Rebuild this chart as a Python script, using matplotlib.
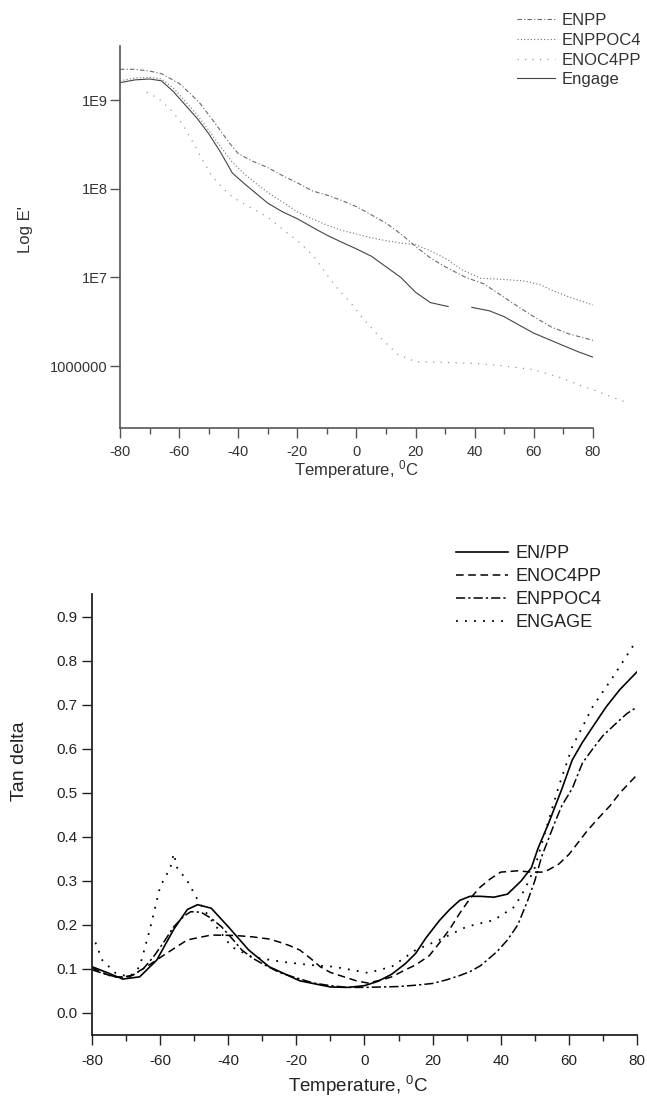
import numpy as np
import matplotlib
matplotlib.use('Agg')
import matplotlib.pyplot as plt
from matplotlib.ticker import MultipleLocator, NullLocator

plt.rcParams['font.family'] = ['Liberation Sans', 'DejaVu Sans']
plt.rcParams['mathtext.default'] = 'regular'
plt.rcParams['axes.unicode_minus'] = False

# === top panel: storage modulus E' (Pa) vs temperature ===
t_enpp = [-80, -75, -70, -66, -60, -56, -53, -48, -43, -40, -35, -30, -25, -20, -15, -10, -5, 0, 5, 10,
          15, 20, 25, 30, 37, 43, 48, 53, 60, 66, 72, 80]
e_enpp = [2.24e9, 2.24e9, 2.14e9, 2.0e9, 1.55e9, 1.17e9, 9.3e8, 5.6e8, 3.3e8, 2.5e8, 2.04e8, 1.74e8,
          1.41e8, 1.17e8, 9.5e7, 8.5e7, 7.4e7, 6.3e7, 5.1e7, 4.1e7, 3.1e7, 2.24e7, 1.66e7, 1.32e7,
          1.0e7, 8.5e6, 6.6e6, 5.1e6, 3.6e6, 2.75e6, 2.3e6, 1.95e6]

t_enppoc4 = [-80, -75, -70, -66, -62, -58, -54, -50, -46, -42, -38, -34, -30, -25, -20, -15, -10, -5, 0,
             5, 10, 15, 20, 25, 31, 36, 42, 50, 57, 62, 66, 72, 80]
e_enppoc4 = [1.66e9, 1.78e9, 1.82e9, 1.74e9, 1.38e9, 9.8e8, 6.9e8, 4.6e8, 3.0e8, 2.0e8, 1.48e8, 1.15e8,
             9.1e7, 7.1e7, 5.5e7, 4.6e7, 3.9e7, 3.4e7, 3.1e7, 2.8e7, 2.6e7, 2.45e7, 2.34e7, 2.0e7,
             1.58e7, 1.2e7, 9.8e6, 9.5e6, 9.1e6, 8.3e6, 7.2e6, 6.0e6, 4.9e6]

t_enoc4pp = [-71, -67, -63, -59, -55, -52, -49, -45, -42, -36, -30, -25, -19, -14, -10, -6, -2, 2, 8,
             14, 20, 30, 40, 48, 60, 70, 77, 80, 92]
e_enoc4pp = [1.23e9, 1.05e9, 7.9e8, 5.5e8, 3.2e8, 2.1e8, 1.41e8, 1.0e8, 8.1e7, 6.2e7, 4.8e7, 3.5e7,
             2.45e7, 1.66e7, 1.07e7, 7.2e6, 5.2e6, 3.5e6, 2.1e6, 1.35e6, 1.12e6, 1.1e6, 1.07e6,
             1.02e6, 9.1e5, 7.2e5, 5.8e5, 5.4e5, 3.8e5]

t_engage = [-80, -75, -70, -66, -62, -58, -54, -50, -46, -42, -38, -34, -30, -25, -20, -15, -10, -5, 0,
            5, 10, 15, 20, 25, 31, 35, 39, 45, 50, 55, 60, 65, 70, 75, 80]
e_engage = [1.58e9, 1.7e9, 1.74e9, 1.66e9, 1.26e9, 8.9e8, 6.3e8, 4.2e8, 2.6e8, 1.51e8, 1.15e8, 8.9e7,
            6.9e7, 5.5e7, 4.6e7, 3.7e7, 3.0e7, 2.5e7, 2.1e7, 1.74e7, 1.32e7, 1.0e7, 6.8e6, 5.2e6,
            4.7e6, np.nan, 4.6e6, 4.2e6, 3.6e6, 2.9e6, 2.35e6, 2.0e6, 1.7e6, 1.45e6, 1.26e6]

top_yticks = [1e6, 1e7, 1e8, 1e9]
top_ylabels = ['1000000', '1E7', '1E8', '1E9']
x_ticks = [-80, -60, -40, -20, 0, 20, 40, 60, 80]

# === bottom panel: tan delta vs temperature ===
t_b_enpp = [-80, -75, -71, -66, -61, -56, -52, -49, -45, -40, -34, -28, -19, -10, -5, 0, 4, 8, 12, 15,
            18, 22, 25, 28, 31, 34, 38, 42, 46, 49, 51, 54, 56, 58, 61, 64, 67, 71, 75, 80]
td_enpp = [0.105, 0.090, 0.077, 0.082, 0.12, 0.19, 0.235, 0.246, 0.238, 0.196, 0.143, 0.105, 0.073,
           0.059, 0.058, 0.062, 0.072, 0.088, 0.112, 0.135, 0.17, 0.21, 0.235, 0.256, 0.265, 0.265,
           0.263, 0.27, 0.30, 0.33, 0.375, 0.43, 0.47, 0.51, 0.575, 0.615, 0.65, 0.696, 0.735, 0.775]

t_b_enoc4pp = [-80, -74, -69, -64, -58, -52, -45, -38, -33, -28, -25, -22, -19, -16, -13, -10, -6, -2,
               1, 5, 8, 12, 15, 19, 22, 25, 28, 31, 34, 37, 40, 45, 49, 52, 54, 57, 60, 62, 65, 68,
               72, 75, 80]
td_enoc4pp = [0.102, 0.082, 0.082, 0.105, 0.136, 0.166, 0.177, 0.176, 0.173, 0.168, 0.161, 0.153,
              0.143, 0.125, 0.105, 0.092, 0.082, 0.072, 0.068, 0.075, 0.082, 0.098, 0.109, 0.13,
              0.159, 0.19, 0.227, 0.26, 0.286, 0.305, 0.32, 0.323, 0.32, 0.32, 0.325, 0.338, 0.36,
              0.38, 0.41, 0.437, 0.47, 0.50, 0.541]

t_b_enppoc4 = [-80, -76, -72, -68, -65, -62, -59, -56, -53, -51, -48, -45, -42, -39, -36, -33, -30,
               -25, -21, -15, -10, -5, 0, 5, 10, 15, 20, 24, 28, 31, 34, 36, 39, 42, 45, 48, 50, 52,
               54, 56, 58, 61, 64, 67, 70, 74, 77, 80]
td_enppoc4 = [0.098, 0.088, 0.08, 0.086, 0.10, 0.127, 0.16, 0.196, 0.22, 0.23, 0.229, 0.215, 0.196,
              0.17, 0.143, 0.125, 0.112, 0.092, 0.082, 0.068, 0.062, 0.058, 0.058, 0.059, 0.06, 0.063,
              0.067, 0.075, 0.085, 0.094, 0.107, 0.12, 0.14, 0.166, 0.20, 0.257, 0.30, 0.355, 0.395,
              0.435, 0.472, 0.51, 0.568, 0.60, 0.63, 0.659, 0.68, 0.695]

t_b_engage = [-79, -77, -73, -69, -66, -63, -60, -57, -56, -55, -54, -52, -49, -45, -39, -33, -24, -16,
              -9, 1, 8, 15, 22, 30, 38, 44, 47, 50, 53, 57, 61, 64, 67, 70, 73, 76, 79, 80]
td_engage = [0.16, 0.12, 0.09, 0.082, 0.105, 0.19, 0.287, 0.33, 0.362, 0.33, 0.32, 0.30, 0.257, 0.211,
             0.15, 0.127, 0.116, 0.109, 0.105, 0.091, 0.105, 0.143, 0.166, 0.196, 0.211, 0.241, 0.28,
             0.33, 0.41, 0.514, 0.605, 0.65, 0.696, 0.73, 0.764, 0.80, 0.836, 0.84]

bottom_yticks = [0.0, 0.1, 0.2, 0.3, 0.4, 0.5, 0.6, 0.7, 0.8, 0.9]

fig = plt.figure(figsize=(6.47, 11.01), dpi=100)

# ---------- top panel ----------
gray = '#555555'
ax1 = fig.add_axes([0.1855, 0.6113, 0.731, 0.3469])
ax1.plot(t_enpp, e_enpp, color='#6a6a6a', lw=0.8, ls=(0, (4, 2, 1, 2)), label='ENPP')
ax1.plot(t_enppoc4, e_enppoc4, color='#707070', lw=0.8, ls=(0, (1, 2)), label='ENPPOC4')
ax1.plot(t_enoc4pp, e_enoc4pp, color='#999999', lw=0.9, ls=(0, (1, 5)), label='ENOC4PP', clip_on=False)
ax1.plot(t_engage, e_engage, color='#444444', lw=0.8, label='Engage')
ax1.set_yscale('log')
ax1.set_xlim(-80, 80)
ax1.set_ylim(2.0e5, 4.1e9)
ax1.set_yticks(top_yticks, labels=top_ylabels)
ax1.yaxis.set_minor_locator(NullLocator())
ax1.set_xticks(x_ticks)
ax1.xaxis.set_minor_locator(MultipleLocator(10))
for s in ['top', 'right']:
    ax1.spines[s].set_visible(False)
for s in ['left', 'bottom']:
    ax1.spines[s].set_color(gray)
    ax1.spines[s].set_linewidth(1.2)
ax1.tick_params(which='major', length=7, width=1, color=gray, labelsize=10.5, labelcolor='#333333')
ax1.tick_params(which='minor', length=4, width=1, color=gray)
ax1.tick_params(axis='x', pad=5)
ax1.tick_params(axis='y', pad=2)
ax1.set_xlabel('Temperature, $^0$C', fontsize=12, color='#333333')
ax1.xaxis.set_label_coords(0.5, -0.08)
ax1.set_ylabel("Log E'", fontsize=12, color='#333333')
ax1.yaxis.set_label_coords(-0.185, 0.52)
ax1.legend(loc='upper left', bbox_to_anchor=(0.799, 0.988), bbox_transform=fig.transFigure,
           frameon=False, fontsize=12, handlelength=2.3, handletextpad=0.4, labelspacing=0.28,
           borderpad=0, borderaxespad=0, labelcolor='#333333')

# ---------- bottom panel ----------
ax2 = fig.add_axes([0.1422, 0.0600, 0.8423, 0.4005])
ax2.plot(t_b_enpp, td_enpp, color='black', lw=1.2, label='EN/PP')
ax2.plot(t_b_enoc4pp, td_enoc4pp, color='black', lw=1.1, ls=(0, (5, 3)), label='ENOC4PP')
ax2.plot(t_b_enppoc4, td_enppoc4, color='black', lw=1.1, ls=(0, (6, 2, 1.5, 2)), label='ENPPOC4')
ax2.plot(t_b_engage, td_engage, color='black', lw=1.3, ls=(0, (1, 4)), label='ENGAGE')
ax2.set_xlim(-80, 80)
ax2.set_ylim(-0.05, 0.952)
ax2.set_yticks(bottom_yticks)
ax2.yaxis.set_major_formatter(matplotlib.ticker.FormatStrFormatter('%.1f'))
ax2.set_xticks(x_ticks)
ax2.xaxis.set_minor_locator(MultipleLocator(10))
for s in ['top', 'right']:
    ax2.spines[s].set_visible(False)
for s in ['left', 'bottom']:
    ax2.spines[s].set_color('#222222')
    ax2.spines[s].set_linewidth(1.3)
ax2.tick_params(which='major', length=7, width=1, color='#222222', labelsize=11, labelcolor='#222222')
ax2.tick_params(which='minor', length=4, width=1, color='#222222')
ax2.tick_params(axis='x', pad=7)
ax2.tick_params(axis='y', pad=3.5)
ax2.set_xlabel('Temperature, $^0$C', fontsize=13.5, color='#222222')
ax2.xaxis.set_label_coords(0.488, -0.088)
ax2.set_ylabel('Tan delta', fontsize=14, color='#222222')
ax2.yaxis.set_label_coords(-0.117, 0.62)
ax2.legend(loc='upper left', bbox_to_anchor=(0.705, 0.505), bbox_transform=fig.transFigure,
           frameon=False, fontsize=13, handlelength=2.9, handletextpad=0.4, labelspacing=0.33,
           borderpad=0, borderaxespad=0, labelcolor='#222222')

fig.savefig('out.png', dpi=100)
